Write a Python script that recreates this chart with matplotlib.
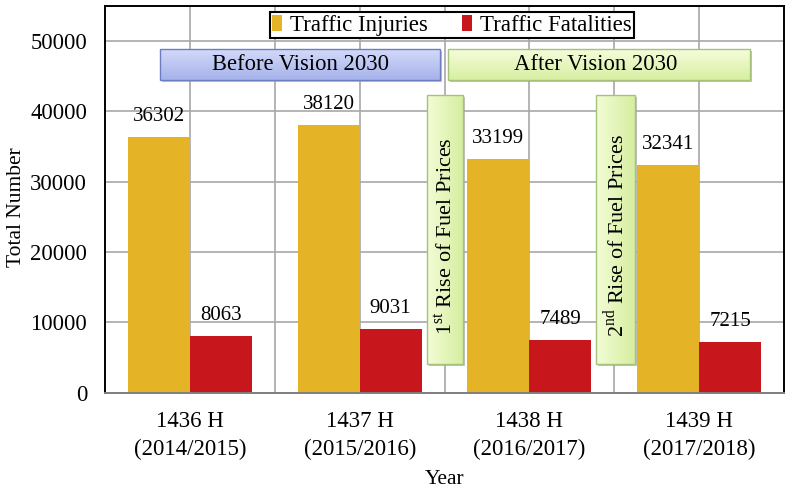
#!/usr/bin/env python3
"""
Traffic injuries and fatalities per Hijri year, with Vision 2030 / fuel price notes.
"""

import numpy as np
import matplotlib
matplotlib.use('Agg')
import matplotlib.pyplot as plt
import matplotlib.colors as mcolors
from matplotlib.patches import Rectangle
from matplotlib.transforms import offset_copy

plt.rcParams['font.family'] = ['Liberation Serif', 'DejaVu Serif']
plt.rcParams['mathtext.fontset'] = 'custom'
plt.rcParams['mathtext.rm'] = 'Liberation Serif'

# data
years = ['1436 H\n(2014/2015)', '1437 H\n(2015/2016)',
         '1438 H\n(2016/2017)', '1439 H\n(2017/2018)']
injuries = [36302, 38120, 33199, 32341]
fatalities = [8063, 9031, 7489, 7215]

INJ_COLOR = '#E4B326'
FAT_COLOR = '#C8171C'


def grad_box(ax, fig, x0, y0, x1, y1, c_start, c_end, edge, horizontal=False):
    """Box with a soft colour gradient and a small drop shadow (axes coords)."""
    shadow_tr = offset_copy(ax.transAxes, fig=fig, x=2, y=-2, units='dots')
    ax.add_patch(Rectangle((x0, y0), x1 - x0, y1 - y0, transform=shadow_tr,
                           facecolor='#9a9a9a', edgecolor='none', alpha=0.6, zorder=4))
    t = np.linspace(0, 1, 64)
    grad = t[None, :] if horizontal else t[:, None]
    cmap = mcolors.LinearSegmentedColormap.from_list('g', [c_start, c_end])
    ax.imshow(grad, cmap=cmap, extent=[x0, x1, y0, y1], transform=ax.transAxes,
              aspect='auto', zorder=5, interpolation='bilinear')
    ax.add_patch(Rectangle((x0, y0), x1 - x0, y1 - y0, transform=ax.transAxes,
                           facecolor='none', edgecolor=edge, lw=1.0, zorder=6))


fig = plt.figure(figsize=(7.91, 4.88), dpi=100)
ax = fig.add_axes([0.133, 0.195, 0.858, 0.793])

x = np.arange(len(years))
w = 0.365
b1 = ax.bar(x - w / 2, injuries, w, color=INJ_COLOR, label='Traffic Injuries', zorder=2)
b2 = ax.bar(x + w / 2, fatalities, w, color=FAT_COLOR, label='Traffic Fatalities', zorder=2)

for bars, vals in ((b1, injuries), (b2, fatalities)):
    for rect, v in zip(bars, vals):
        ax.annotate(f'{v}', (rect.get_x() + rect.get_width() / 2, v),
                    xytext=(0, 8), textcoords='offset points',
                    ha='center', va='bottom', fontsize=15, zorder=3)

# annotation boxes (placed in axes fractions, from pixel layout of the original)
def px(xp, yp):
    return (xp - 105) / 679, (393 - yp) / 387

bx0, by0 = px(160, 80)
bx1, by1 = px(440, 49)
grad_box(ax, fig, bx0, by0, bx1, by1, '#d3daf9', '#a6b2ea', '#6e7dc2')
ax.text((bx0 + bx1) / 2, (by0 + by1) / 2, 'Before Vision 2030', transform=ax.transAxes,
        ha='center', va='center', fontsize=16.3, zorder=7)

ax0, ay0 = px(448, 80)
ax1, ay1 = px(750, 49)
grad_box(ax, fig, ax0, ay0, ax1, ay1, '#f5fddb', '#d8efa2', '#a6c27a')
ax.text((ax0 + ax1) / 2 - 0.005, (ay0 + ay1) / 2, 'After Vision 2030', transform=ax.transAxes,
        ha='center', va='center', fontsize=16.3, zorder=7)

for (l, r), txt in (((427, 463), '1$^{\\mathrm{st}}$ Rise of Fuel Prices'),
                    ((596, 635), '2$^{\\mathrm{nd}}$ Rise of Fuel Prices')):
    fx0, fy0 = px(l, 364)
    fx1, fy1 = px(r, 95)
    grad_box(ax, fig, fx0, fy0, fx1, fy1, '#f3fcd6', '#d6eea0', '#a6c27a', horizontal=True)
    ax.text((fx0 + fx1) / 2, px(0, 236)[1], txt, transform=ax.transAxes, rotation=90,
            ha='center', va='center', fontsize=16, zorder=7)

# axes styling
ax.set_xlim(-0.5, len(years) - 0.5)
ax.set_ylim(0, 55000)
ax.set_yticks(np.arange(0, 50001, 10000))
ax.set_xticks(x)
ax.set_xticks(x[:-1] + 0.5, minor=True)
ax.set_xticklabels(years, fontsize=16.5, linespacing=1.45)
ax.tick_params(axis='y', labelsize=16.3, length=0, pad=13)
ax.tick_params(axis='x', which='both', length=0, pad=13)
ax.set_axisbelow(True)
ax.yaxis.grid(True, color='#a8a8a8', lw=1.2)
ax.xaxis.grid(True, which='both', color='#a8a8a8', lw=1.2)

ax.set_ylabel('Total Number', fontsize=15.5, labelpad=3)
ax.yaxis.label.set_y(0.48)
ax.set_xlabel('Year', fontsize=15.5, labelpad=7)

for side in ('top', 'right', 'left'):
    ax.spines[side].set_color('black')
    ax.spines[side].set_linewidth(1.4)
ax.spines['bottom'].set_color('#7f7f7f')
ax.spines['bottom'].set_linewidth(1.4)

leg = ax.legend(loc='upper center', bbox_to_anchor=(0.511, 0.9845), ncol=2,
                fancybox=False, edgecolor='black', framealpha=1, fontsize=16.5,
                handlelength=0.42, handleheight=0.7, handletextpad=0.35,
                columnspacing=1.5, borderpad=0.12, borderaxespad=0)
leg.get_frame().set_linewidth(1.5)
leg.set_zorder(8)

plt.savefig('out.png', dpi=100)
